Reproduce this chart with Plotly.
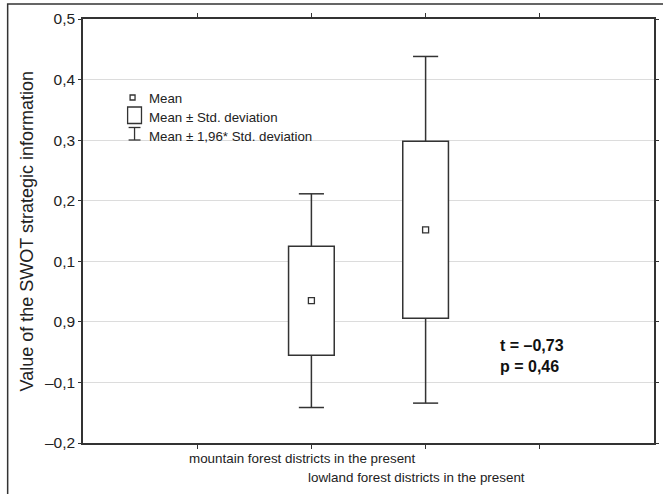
import plotly.graph_objects as go

# ---- data ----
categories = ["mountain forest districts in the present",
              "lowland forest districts in the present"]
positions = [2, 3]
means = [0.035, 0.152]
sds = [0.090, 0.146]
sd_mult = 1.96
y_tickvals = [-0.2, -0.1, 0.0, 0.1, 0.2, 0.3, 0.4, 0.5]
y_ticktext = ["\u20130,2", "\u20130,1", "0,9", "0,1", "0,2", "0,3", "0,4", "0,5"]
x_tickvals = [1, 2, 3, 4]
legend_labels = ["Mean", "Mean \u00b1 Std. deviation", "Mean \u00b1 1,96* Std. deviation"]
stat_lines = ["t = \u20130,73", "p = 0,46"]
y_title = "Value of the SWOT strategic information"

# ---- style ----
W, H = 663, 494
ML, MR, MT, MB = 83, 4, 19, 51
PW, PH = W - ML - MR, H - MT - MB
FONT = "Liberation Sans, Arial, sans-serif"
LC = "#333333"
GRID = "#dcdcdc"
BOXW = 0.4
CAPW = 0.11


def px(xp):
    return (xp - ML) / PW


def py(yp):
    return (H - MB - yp) / PH


fig = go.Figure()

# boxes (mean ± sd)
fig.add_trace(go.Bar(
    x=positions,
    base=[m - s for m, s in zip(means, sds)],
    y=[2 * s for s in sds],
    width=BOXW,
    marker=dict(color="white", line=dict(color=LC, width=1.5)),
    showlegend=False, hoverinfo="skip"))

# whiskers (mean ± 1.96 sd)
wx, wy = [], []
for p, m, s in zip(positions, means, sds):
    top_box, bot_box = m + s, m - s
    top_w, bot_w = m + sd_mult * s, m - sd_mult * s
    wx += [p, p, None, p - CAPW, p + CAPW, None,
           p, p, None, p - CAPW, p + CAPW, None]
    wy += [top_box, top_w, None, top_w, top_w, None,
           bot_box, bot_w, None, bot_w, bot_w, None]
fig.add_trace(go.Scatter(x=wx, y=wy, mode="lines",
                         line=dict(color=LC, width=1.5),
                         showlegend=False, hoverinfo="skip"))

# means
fig.add_trace(go.Scatter(x=positions, y=means, mode="markers",
                         marker=dict(symbol="square-open", size=6,
                                     color=LC, line=dict(width=1.3)),
                         showlegend=False, hoverinfo="skip"))

shapes = []
# legend background
shapes.append(dict(type="rect", xref="paper", yref="paper",
                   x0=px(97), x1=px(313), y0=py(146), y1=py(85),
                   fillcolor="white", line=dict(width=0), layer="between"))
# legend symbols
shapes.append(dict(type="rect", xref="paper", yref="paper",
                   x0=px(130.5), x1=px(135.5), y0=py(100), y1=py(95),
                   line=dict(color=LC, width=1.3)))
shapes.append(dict(type="rect", xref="paper", yref="paper",
                   x0=px(128), x1=px(142), y0=py(123.5), y1=py(107),
                   line=dict(color=LC, width=1.3)))
for seg in [((135, 127.5), (135, 140)), ((129, 127.5), (141, 127.5)), ((129, 140), (141, 140))]:
    shapes.append(dict(type="line", xref="paper", yref="paper",
                       x0=px(seg[0][0]), y0=py(seg[0][1]),
                       x1=px(seg[1][0]), y1=py(seg[1][1]),
                       line=dict(color=LC, width=1.3)))
# outer frame
shapes.append(dict(type="rect", xref="paper", yref="paper",
                   x0=px(7), x1=px(680), y0=py(520), y1=py(4),
                   line=dict(color=LC, width=1.5)))

annotations = []
for i, lab in enumerate(legend_labels):
    annotations.append(dict(xref="paper", yref="paper", x=px(148), y=py(98 + 19 * i),
                            text=lab, showarrow=False, xanchor="left", yanchor="middle",
                            font=dict(family=FONT, size=13.3, color="#222")))
# category labels staggered
for i, (p, c) in enumerate(zip(positions, categories)):
    annotations.append(dict(xref="x", yref="paper", x=p, y=py(458 + 19 * i),
                            text=c, showarrow=False, xanchor="center", yanchor="middle",
                            xshift=-9, font=dict(family=FONT, size=13.4, color="#222")))
# statistics
annotations.append(dict(xref="paper", yref="paper", x=px(501), y=py(356),
                        text="<br>".join("<b>%s</b>" % s for s in stat_lines),
                        showarrow=False, xanchor="left", yanchor="middle", align="left",
                        bgcolor="white", borderpad=2,
                        font=dict(family=FONT, size=16, color="#111")))
# y title
annotations.append(dict(xref="paper", yref="paper", x=px(27), y=py(231),
                        text=y_title, textangle=-90, showarrow=False,
                        xanchor="center", yanchor="middle",
                        font=dict(family=FONT, size=18, color="#222")))

fig.update_layout(
    width=W, height=H,
    margin=dict(l=ML, r=MR, t=MT, b=MB, pad=0),
    paper_bgcolor="white", plot_bgcolor="white",
    shapes=shapes, annotations=annotations,
    showlegend=False,
    xaxis=dict(range=[0, 5], tickvals=x_tickvals, ticktext=["", "", "", ""],
               showgrid=False, zeroline=False, showline=True, linecolor=LC,
               linewidth=1.5, mirror="ticks", ticks="outside", ticklen=4,
               tickcolor=LC, tickwidth=1),
    yaxis=dict(range=[-0.2, 0.5], tickvals=y_tickvals, ticktext=y_ticktext,
               showgrid=True, gridcolor=GRID, gridwidth=1.2, zeroline=False,
               showline=True, linecolor=LC, linewidth=1.5, mirror="ticks",
               ticks="outside", ticklen=3, tickcolor=LC, tickwidth=1,
               tickfont=dict(family=FONT, size=15.5, color="#222")),
)

fig.write_html("out.html", config={"displayModeBar": False},
               post_script="document.body.style.margin='0px';")
